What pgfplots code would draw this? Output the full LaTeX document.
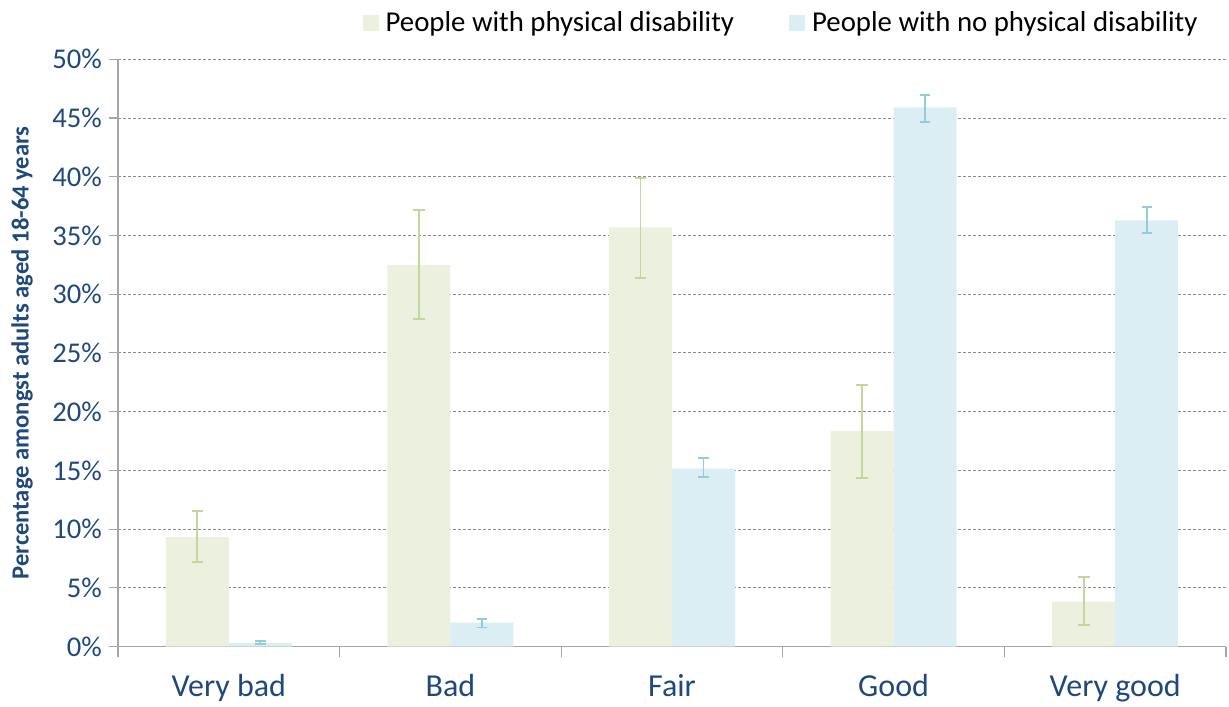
\documentclass[border=0pt]{standalone}
\usepackage{fontspec}
\setmainfont{Carlito}
\usepackage{pgfplots}
\usepackage{pgfplotstable}
\pgfplotsset{compat=1.18}

\definecolor{physfill}{HTML}{EBF1DE}
\definecolor{physerr}{HTML}{C3D69B}
\definecolor{nofill}{HTML}{DBEEF4}
\definecolor{noerr}{HTML}{93CDDD}
\definecolor{labblue}{HTML}{1F497D}
\definecolor{gridgray}{HTML}{8C8C8C}
\definecolor{axisgray}{HTML}{A6A6A6}

% self-rated health, adults aged 18-64 (percent, with confidence limits)
\pgfplotstableread{
x  y      ep    em
0  9.31   2.20  2.13
1  32.46  4.69  4.56
2  35.69  4.17  4.31
3  18.33  3.97  3.97
4  3.83   2.10  1.98
}\physical
\pgfplotstableread{
x  y      ep    em
0  0.32   0.18  0.12
1  2.04   0.34  0.42
2  15.15  0.91  0.73
3  45.90  1.05  1.24
4  36.29  1.13  1.09
}\nophysical

\begin{document}
\begin{tikzpicture}
\begin{axis}[
  name=ax,
  width=554pt, height=293.7pt, scale only axis,
  ybar=0pt, bar width=31.5pt,
  xmin=-0.5, xmax=4.5, ymin=0, ymax=50,
  axis x line*=bottom, axis y line*=left,
  axis line style={draw=axisgray, line width=0.8pt},
  xtick={0,1,2,3,4},
  xticklabels={Very bad,Bad,Fair,Good,Very good},
  major x tick style={draw=none},
  minor xtick={-0.5,0.5,1.5,2.5,3.5,4.5},
  minor x tick style={draw=axisgray, line width=0.6pt},
  minor tick length=5pt,
  ytick={0,5,...,50},
  major tick length=4.5pt,
  y tick style={draw=axisgray, line width=0.6pt},
  tick align=outside,
  yticklabel={\pgfmathprintnumber{\tick}\%},
  /pgf/number format/assume math mode=true,
  yticklabel style={font=\fontsize{14.3}{16}\selectfont, text=labblue},
  xticklabel style={font=\fontsize{16}{18}\selectfont, text=labblue, yshift=-6pt},
  ymajorgrids,
  major grid style={draw=gridgray, dash pattern=on 1.5pt off 1pt, line width=0.4pt},
  ylabel={Percentage amongst adults aged 18-64 years},
  ylabel style={font=\fontsize{12.3}{14}\selectfont\bfseries, text=labblue,
    at={(axis description cs:-0.0866,0.5)}, anchor=center},
  legend columns=2,
  legend image code/.code={\fill[#1] (0pt,-4pt) rectangle (8pt,4pt);},
  legend style={at={(axis description cs:0.981,1)}, anchor=east, yshift=18pt,
    draw=none, fill=none, inner sep=0pt,
    font=\fontsize{14.4}{17}\selectfont,
    nodes={inner sep=3.5pt},
    /tikz/every even column/.append style={column sep=24pt}},
  error bars/y dir=both, error bars/y explicit,
]
\addplot[fill=physfill, draw=none,
  error bars/.cd, error bar style={draw=physerr, line width=0.9pt},
  error mark options={draw=physerr, line width=0.9pt, mark size=2.9pt, rotate=90}]
  table[x=x, y=y, y error plus=ep, y error minus=em] {\physical};
\addlegendentry{People with physical disability}
\addplot[fill=nofill, draw=none,
  error bars/.cd, error bar style={draw=noerr, line width=0.9pt},
  error mark options={draw=noerr, line width=0.9pt, mark size=2.6pt, rotate=90}]
  table[x=x, y=y, y error plus=ep, y error minus=em] {\nophysical};
\addlegendentry{People with no physical disability}
\end{axis}
\pgfresetboundingbox
\path[use as bounding box] ([shift={(-59pt,-30.2pt)}]ax.south west)
  rectangle ([shift={(1.5pt,29.6pt)}]ax.north east);
\end{tikzpicture}
\end{document}
